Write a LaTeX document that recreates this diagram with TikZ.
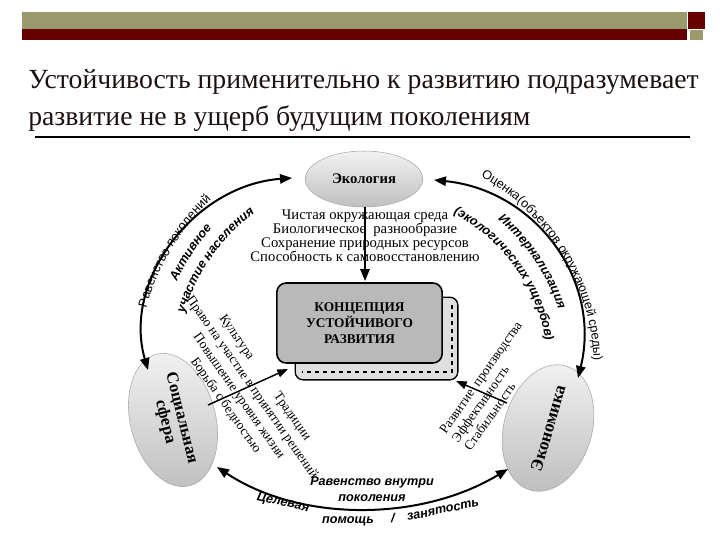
\documentclass[tikz,border=0pt]{standalone}
\usepackage{fontspec}
\setmainfont{Liberation Serif}
\setsansfont{Liberation Sans}
\usetikzlibrary{decorations.text,arrows.meta,shapes.geometric}
\definecolor{barolive}{HTML}{9B9A6C}
\definecolor{barred}{HTML}{660000}
\definecolor{titlecol}{HTML}{1E1010}
\newcommand\arcfont{\sffamily\fontsize{9.5}{10}\selectfont}
\newcommand\arcbf{\sffamily\bfseries\itshape\fontsize{9.5}{10}\selectfont}
\begin{document}
\begin{tikzpicture}[x=0.75pt,y=-0.75pt,
  title/.style={anchor=base west,inner sep=0pt,text=titlecol,font=\fontsize{20.8}{22}\selectfont},
  ell/.style={ellipse,draw=gray!70,top color=gray!10,bottom color=gray!50,inner sep=1pt},
  arr/.style={line width=1.5pt,-{Triangle[length=9pt,width=7pt]}},
  darr/.style={line width=1.5pt,{Triangle[length=9pt,width=7pt]}-{Triangle[length=9pt,width=7pt]}},
  sarr/.style={line width=1.1pt,-{Triangle[length=8pt,width=6pt]}},
  lst/.style={font=\fontsize{10}{12}\selectfont,inner sep=0pt},
  bi/.style={font=\sffamily\bfseries\itshape\fontsize{9.5}{11}\selectfont,inner sep=0pt},
  arctext/.style={decorate,decoration={text along path,text align=center,text={#1}}}]
\useasboundingbox (0,0) rectangle (720,540);
% top bar
\fill[barolive] (22,12) rectangle (687,29);
\fill[barred] (22,29) rectangle (687,40);
\fill[barred] (688,12) rectangle (705,29);
\fill[barolive] (690,30) rectangle (703,40);
% title
\node[title] (t1) at (28,88) {Устойчивость применительно к развитию подразумевает};
\node[title] (t2) at (28,125) {развитие не в ущерб будущим поколениям};
\draw[line width=0.8pt] (35,137) -- (690,137);
% ellipses
\node[ell,minimum width=88pt,minimum height=42pt,font=\bfseries\fontsize{11}{12}\selectfont] (eco) at (364,179) {Экология};
\node[ell,rotate=-76,minimum width=74pt,minimum height=64pt,align=center,font=\bfseries\fontsize{12.5}{12.5}\selectfont] (soc) at (173,420) {Социальная\\сфера};
\node[ell,rotate=74,minimum width=74pt,minimum height=66pt,font=\bfseries\fontsize{13}{13}\selectfont] (econ) at (548,428) {Экономика};
% center box
\node[draw,line width=1pt,rounded corners=6pt,fill=gray!25,minimum width=122pt,minimum height=62pt] (sh) at (376.5,338.5) {};
\draw[dashed,line width=1.5pt] (452,305) -- (452,372) -- (302,372);
\node[draw,line width=1.2pt,rounded corners=7pt,fill=gray!55,minimum width=124pt,minimum height=60pt,align=center,font=\bfseries\fontsize{10}{12}\selectfont] (box) at (359.5,323) {КОНЦЕПЦИЯ\\УСТОЙЧИВОГО\\РАЗВИТИЯ};
% coordinates
\coordinate (lt) at (292,178); \coordinate (lb) at (148,370);
\coordinate (rt) at (434,180); \coordinate (rb) at (578,378);
\coordinate (bl) at (217,467); \coordinate (br) at (508,469);
\coordinate (vt) at (365,207); \coordinate (vb) at (365,281);
\coordinate (ls) at (208,405); \coordinate (le) at (288,369);
\coordinate (rs) at (507,403); \coordinate (re) at (456,381);
% arrows
\draw[darr] (lb) .. controls (122,280) and (195,185) .. (lt);
\draw[darr] (rt) .. controls (535,190) and (602,280) .. (rb);
\draw[darr] (bl) .. controls (300,522) and (420,522) .. (br);
\draw[arr] (vt) -- (vb);
\draw[sarr] (ls) -- (le);
\draw[sarr] (rs) -- (re);
% ecology list
\node[lst,align=center,font=\fontsize{11}{10.5}\selectfont] (elist) at (365,236) {Чистая окружающая среда\\Биологическое \ разнообразие\\Сохранение природных ресурсов\\Способность к самовосстановлению};
% left list
\node[lst,align=center,rotate=-55] (slist) at (245,392) {Культура \qquad\quad Традиции\\Право на участие в принятии решений\\Повышение уровня жизни\\Борьба с бедностью};
% right list
\node[lst,align=left,rotate=55,font=\fontsize{10}{11.3}\selectfont] (rlist) at (493,386) {Развитие \ производства\\Эффективность\\Стабильность};
% arc texts
\path[arctext={|\arcfont|Равенство поколений}] (372,370) ++(-176:234) arc[start angle=-176,end angle=-122,radius=234];
\path[arctext={|\arcbf|Активное}] (372,370) ++(-165:214) arc[start angle=-165,end angle=-129,radius=214];
\path[arctext={|\arcbf|участие населения}] (372,370) ++(-175:196) arc[start angle=-175,end angle=-115,radius=196];
\path[arctext={|\arcfont|Оценка(объектов окружающей среды)}] (372,370) ++(-66:222) arc[start angle=-66,end angle=3,radius=222];
\path[arctext={|\arcbf|Интернализация}] (372,370) ++(-64:196) arc[start angle=-64,end angle=-4,radius=196];
\path[arctext={|\arcbf|(экологических ущербов)}] (372,370) ++(-72:176) arc[start angle=-72,end angle=0,radius=176];
% bottom texts
\node[bi] (b1) at (372,482) {Равенство внутри};
\node[bi] (b2) at (372,498) {поколения};
\node[bi,rotate=-12] (b3) at (283,503) {Целевая};
\node[bi] (b4) at (348,521) {помощь};
\node[bi] (b5) at (393,518) {/};
\node[bi,rotate=12] (b6) at (443,510) {занятость};
\end{tikzpicture}
\end{document}
